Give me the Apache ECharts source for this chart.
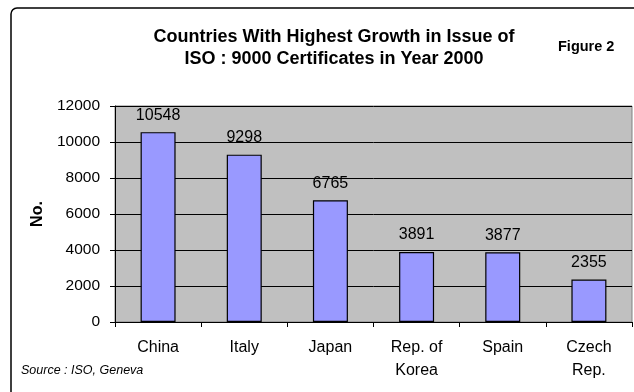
<!DOCTYPE html>
<html>
<head>
<meta charset="utf-8">
<script src="https://cdn.jsdelivr.net/npm/echarts@6/dist/echarts.min.js"></script>
<style>
  html, body { margin: 0; padding: 0; background: #fff; }
  #chart { width: 634px; height: 392px; }
</style>
</head>
<body>
<div id="chart"></div>
<script>
// data
var countries = ['China', 'Italy', 'Japan', 'Rep. of\nKorea', 'Spain', 'Czech\nRep.'];
var certificates = [10548, 9298, 6765, 3891, 3877, 2355];

var font = '"Liberation Sans", Arial, sans-serif';

var myChart = echarts.init(document.getElementById('chart'));
myChart.setOption({
  backgroundColor: '#fff',
  animation: false,
  title: {
    text: 'Countries With Highest Growth in Issue of\nISO : 9000 Certificates in Year 2000',
    left: 329,
    top: 21,
    textAlign: 'center',
    textStyle: { fontFamily: font, fontSize: 18, fontWeight: 'bold', color: '#000', lineHeight: 22 }
  },
  graphic: [
    { type: 'rect', shape: { x: 11, y: 8, width: 640, height: 400, r: 6 },
      style: { fill: null, stroke: '#000', lineWidth: 1.5 }, z: 10 },
    { type: 'text', left: 558, top: 39,
      style: { text: 'Figure 2', font: 'bold 14.5px ' + font, fill: '#000' } },
    { type: 'text', left: 21, top: 364,
      style: { text: 'Source : ISO, Geneva', font: 'italic 12.5px ' + font, fill: '#000' } }
  ],
  grid: {
    left: 115, right: 2, top: 106, bottom: 70,
    show: true, backgroundColor: '#c0c0c0', borderColor: '#808080', borderWidth: 1
  },
  xAxis: {
    type: 'category',
    data: countries,
    axisLine: { lineStyle: { color: '#000' } },
    axisTick: { show: true, length: 5, lineStyle: { color: '#000' } },
    axisLabel: { fontFamily: font, fontSize: 16, color: '#000', margin: 14, lineHeight: 23, interval: 0 }
  },
  yAxis: {
    type: 'value',
    min: 0, max: 12000, interval: 2000,
    name: 'No.',
    nameLocation: 'middle',
    nameGap: 65,
    nameTextStyle: { fontFamily: font, fontSize: 16, fontWeight: 'bold', color: '#000' },
    axisLine: { show: true, lineStyle: { color: '#000' } },
    axisTick: { show: true, length: 5, lineStyle: { color: '#000' } },
    axisLabel: { fontFamily: font, fontSize: 15.5, color: '#000', margin: 15, formatter: function (v) { return String(v); } },
    splitLine: { lineStyle: { color: '#000', width: 1 } }
  },
  series: [{
    type: 'bar',
    data: certificates,
    barWidth: 35,
    itemStyle: { color: '#9999ff', borderColor: '#000', borderWidth: 1.2 },
    label: { show: true, position: 'top', distance: 9, fontFamily: font, fontSize: 16, color: '#000' }
  }]
});
</script>
</body>
</html>
